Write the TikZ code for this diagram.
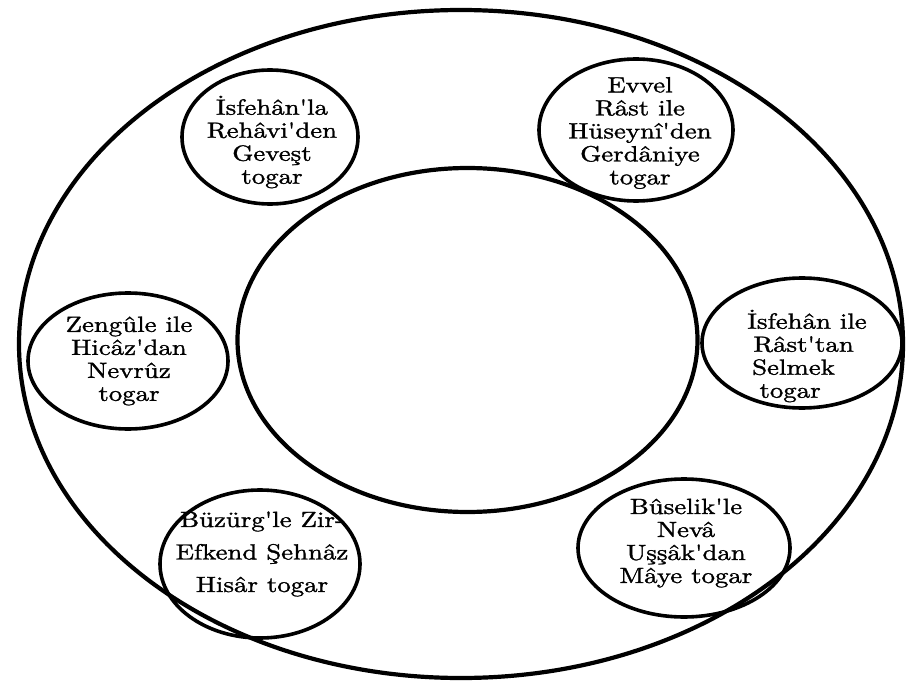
\documentclass[tikz,border=0pt]{standalone}
\usepackage{fontspec}
\setmainfont{lmroman10-regular.otf}[BoldFont=lmroman10-regular.otf,BoldFeatures={FakeBold=1.2}]
\usetikzlibrary{shapes.geometric}
\newcommand{\ap}{\textquotesingle}
\begin{document}
\begin{tikzpicture}[x=1pt,y=-1pt,
  bigring/.style={ellipse,draw,line width=4.2pt,inner sep=0pt},
  smallring/.style={ellipse,draw,line width=3.6pt,inner sep=0pt},
  ringtext/.style={align=center,font=\bfseries\fontsize{22}{23}\selectfont,xscale=1.22,inner sep=0pt}]
\useasboundingbox[fill=white] (0,0) rectangle (908,682);
% big rings
\node[bigring,minimum width=884pt,minimum height=668pt] (outer) at (461,344) {};
\node[bigring,minimum width=460pt,minimum height=344pt] (inner) at (467.5,340) {};
% small rings
\node[smallring,minimum width=176pt,minimum height=134pt] (r1) at (270,137) {};
\node[smallring,minimum width=194pt,minimum height=142pt] (r2) at (636,130) {};
\node[smallring,minimum width=200pt,minimum height=136pt] (r3) at (128,361) {};
\node[smallring,minimum width=200pt,minimum height=130pt] (r4) at (802,343) {};
\node[smallring,minimum width=200pt,minimum height=148pt] (r5) at (260,564) {};
\node[smallring,minimum width=212pt,minimum height=138pt] (r6) at (684,548) {};
% texts
\node[ringtext] (t1) at (272,142) {İsfehân\ap la\\Rehâvi\ap den\\Geveşt\\togar};
\node[ringtext] (t2) at (640,133) {Evvel\\Râst ile\\Hüseynî\ap den\\Gerdâniye\\togar};
\node[ringtext] (t3) at (129,361) {Zengûle ile\\Hicâz\ap dan\\Nevrûz\\togar};
\node[ringtext,align=left] (t4) at (807,356) {İsfehân ile\\\hspace{5pt}Râst\ap tan\\\hspace{4pt}Selmek\\\hspace{10pt}togar};
\node[ringtext,font=\bfseries\fontsize{22}{32.5}\selectfont] (t5) at (262,554) {Büzürg\ap le Zir-\\Efkend Şehnâz\\Hisâr togar};
\node[ringtext] (t6) at (686,543) {Bûselik\ap le\\Nevâ\\Uşşâk\ap dan\\Mâye togar};
\end{tikzpicture}
\end{document}
